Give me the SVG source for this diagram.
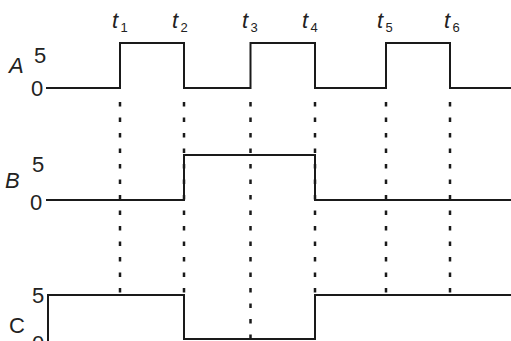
<svg xmlns="http://www.w3.org/2000/svg" width="511" height="341" viewBox="0 0 511 341">
<style>
.sig{fill:none;stroke:#1a1a1a;stroke-width:2;stroke-linejoin:miter}
.dot{fill:none;stroke:#1a1a1a;stroke-width:2.5;stroke-dasharray:4.5 11}
text{font-family:"Liberation Sans",Arial,sans-serif;fill:#222}
.lbl{font-size:22px}
.it{font-style:italic}
.sub{font-size:13px;font-style:normal}
</style>
<rect width="511" height="341" fill="#fff"/>
<g id="connectors">
<line class="dot" x1="120" y1="102" x2="120" y2="295"/>
<line class="dot" x1="184" y1="102" x2="184" y2="295"/>
<line class="dot" x1="250.5" y1="102" x2="250.5" y2="341"/>
<line class="dot" x1="315" y1="102" x2="315" y2="295"/>
<line class="dot" x1="386" y1="102" x2="386" y2="295"/>
<line class="dot" x1="450" y1="102" x2="450" y2="295"/>
</g>
<g id="signalA">
<polyline class="sig" points="46,88 120,88 120,43 184,43 184,88 250.5,88 250.5,43 315,43 315,88 386,88 386,43 450,43 450,88 511,88"/>
<text class="lbl it" x="9" y="73">A</text>
<text class="lbl" x="34" y="63">5</text>
<text class="lbl" x="31" y="96">0</text>
</g>
<g id="signalB">
<polyline class="sig" points="46,200 184,200 184,155 315,155 315,200 511,200"/>
<text class="lbl it" x="5" y="188">B</text>
<text class="lbl" x="32" y="172">5</text>
<text class="lbl" x="30" y="210">0</text>
</g>
<g id="signalC">
<polyline class="sig" points="48,341 48,295 184,295 184,339 315,339 315,295 511,295"/>
<text class="lbl" x="9" y="333">C</text>
<text class="lbl" x="32" y="303">5</text>
<text class="lbl" x="32" y="351">0</text>
</g>
<g id="timeLabels">
<text class="lbl it" x="112" y="28">t<tspan class="sub" x="120.5" y="32">1</tspan></text>
<text class="lbl it" x="172" y="28">t<tspan class="sub" x="180.5" y="32">2</tspan></text>
<text class="lbl it" x="242" y="28">t<tspan class="sub" x="250.5" y="32">3</tspan></text>
<text class="lbl it" x="302" y="28">t<tspan class="sub" x="310.5" y="32">4</tspan></text>
<text class="lbl it" x="377" y="28">t<tspan class="sub" x="385.5" y="32">5</tspan></text>
<text class="lbl it" x="444" y="28">t<tspan class="sub" x="452.5" y="32">6</tspan></text>
</g>
</svg>
